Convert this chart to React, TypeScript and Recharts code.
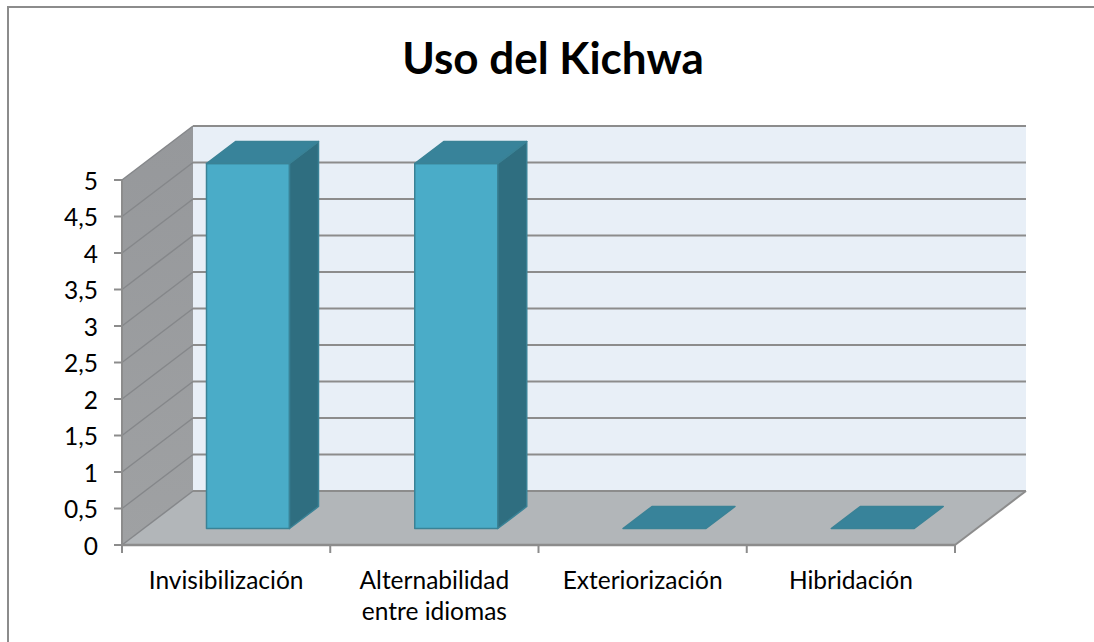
import { Bar, BarChart, CartesianGrid, XAxis, YAxis } from 'recharts';

const categories = ['Invisibilización', 'Alternabilidad entre idiomas', 'Exteriorización', 'Hibridación'];
const usoValues = [5, 5, 0, 0];
const yTicks = [0, 0.5, 1, 1.5, 2, 2.5, 3, 3.5, 4, 4.5, 5];

const chartData = categories.map((name, i) => ({ name, uso: usoValues[i] }));

const FONT = 'Lato, sans-serif';
const AXIS_GREY = '#8c8c8c';
const PLOT_LEFT = 122;
const PLOT_TOP = 180;
const PLOT_WIDTH = 833;
const PLOT_HEIGHT = 365;
const BAND = PLOT_WIDTH / categories.length;
// oblique offset of the back wall and of the bars
const DEPTH_X = 71;
const DEPTH_Y = 54;
const BAR_SHIFT_X = 21.5;
const BAR_SHIFT_Y = 16.5;
const BAR_DEPTH_X = 29;
const BAR_DEPTH_Y = 22;

const pts = (list: number[][]) => list.map((p) => p.join(',')).join(' ');

const GridLine = (props: any) => {
  const { x1, x2, y1, index } = props;
  const left = PLOT_LEFT;
  const right = PLOT_LEFT + PLOT_WIDTH;
  const top = PLOT_TOP;
  const bottom = PLOT_TOP + PLOT_HEIGHT;
  return (
    <g>
      {index === 0 ? (
        <g>
          <defs>
            <linearGradient id="sideWall" x1="0" y1="0" x2="0" y2="1">
              <stop offset="0" stopColor="#96989b" />
              <stop offset="1" stopColor="#9fa1a3" />
            </linearGradient>
          </defs>
          <rect x={left + DEPTH_X} y={top - DEPTH_Y} width={PLOT_WIDTH} height={PLOT_HEIGHT} fill="#e8eff7" />
          <polygon
            points={pts([[left, top], [left + DEPTH_X, top - DEPTH_Y], [left + DEPTH_X, bottom - DEPTH_Y], [left, bottom]])}
            fill="url(#sideWall)"
          />
          <polygon
            points={pts([[left, bottom], [left + DEPTH_X, bottom - DEPTH_Y], [right + DEPTH_X, bottom - DEPTH_Y], [right, bottom]])}
            fill="#b2b6b9"
          />
          <line x1={right} y1={bottom} x2={right + DEPTH_X} y2={bottom - DEPTH_Y} stroke={AXIS_GREY} strokeWidth={2} />
        </g>
      ) : null}
      <line x1={x1} y1={y1} x2={x1 + DEPTH_X} y2={y1 - DEPTH_Y} stroke="#85878a" strokeWidth={1.5} />
      <line x1={x1 + DEPTH_X} y1={y1 - DEPTH_Y} x2={x2 + DEPTH_X} y2={y1 - DEPTH_Y} stroke={AXIS_GREY} strokeWidth={2} />
    </g>
  );
};

const Box3D = (props: any) => {
  const { x, y, width, height } = props;
  const fx = x + BAR_SHIFT_X;
  const fy = y - BAR_SHIFT_Y;
  const dx = BAR_DEPTH_X;
  const dy = BAR_DEPTH_Y;
  return (
    <g stroke="#3a8296" strokeWidth={1.5} strokeLinejoin="round">
      {height > 0 ? (
        <>
          <rect x={fx} y={fy} width={width} height={height} fill="#4aacc8" />
          <polygon
            points={pts([[fx + width, fy], [fx + width + dx, fy - dy], [fx + width + dx, fy + height - dy], [fx + width, fy + height]])}
            fill="#2f6e80"
          />
        </>
      ) : null}
      <polygon
        points={pts([[fx, fy], [fx + dx, fy - dy], [fx + width + dx, fy - dy], [fx + width, fy]])}
        fill="#38839a"
      />
    </g>
  );
};

const CategoryTick = (props: any) => {
  const { x, payload, index } = props;
  const words = String(payload.value).split(' ');
  const lines = words.length > 2 ? [words[0], words.slice(1).join(' ')] : [payload.value];
  const boundary = x + BAND / 2;
  const axisY = PLOT_TOP + PLOT_HEIGHT;
  return (
    <g>
      {index === 0 ? <line x1={x - BAND / 2} x2={x - BAND / 2} y1={axisY} y2={axisY + 8} stroke={AXIS_GREY} strokeWidth={2} /> : null}
      <line x1={boundary} x2={boundary} y1={axisY} y2={axisY + 8} stroke={AXIS_GREY} strokeWidth={2} />
      <text x={x} y={axisY + 44} textAnchor="middle" fontFamily={FONT} fontSize={24.5} fill="#000">
        {lines.map((line: string, i: number) => (
          <tspan key={line} x={x} dy={i === 0 ? 0 : 31}>
            {line}
          </tspan>
        ))}
      </text>
    </g>
  );
};

export default function App() {
  return (
    <div style={{ position: 'absolute', left: 0, top: 0, width: 1094, height: 642, background: '#fff' }}>
      <div
        style={{
          position: 'absolute',
          left: 7,
          top: 6,
          width: 1087,
          height: 636,
          borderLeft: '2px solid #8c8c8c',
          borderTop: '2px solid #8c8c8c',
          boxSizing: 'border-box',
        }}
      />
      <div
        style={{
          position: 'absolute',
          left: 0,
          top: 31,
          width: 1106,
          textAlign: 'center',
          fontFamily: FONT,
          fontWeight: 700,
          fontSize: 44,
          color: '#000',
        }}
      >
        Uso del Kichwa
      </div>
      <BarChart
        width={1094}
        height={642}
        data={chartData}
        margin={{ top: PLOT_TOP, left: 0, right: 1094 - PLOT_LEFT - PLOT_WIDTH, bottom: 0 }}
        barSize={83}
        style={{ position: 'absolute', left: 0, top: 0 }}
      >
        <CartesianGrid vertical={false} horizontal={GridLine} />
        <XAxis
          dataKey="name"
          height={642 - PLOT_TOP - PLOT_HEIGHT}
          interval={0}
          tickLine={false}
          axisLine={{ stroke: AXIS_GREY, strokeWidth: 2.5 }}
          tick={CategoryTick}
        />
        <YAxis
          width={PLOT_LEFT}
          domain={[0, 5]}
          ticks={yTicks}
          interval={0}
          tickSize={8}
          tickMargin={16}
          tickFormatter={(v: number) => String(v).replace('.', ',')}
          axisLine={{ stroke: AXIS_GREY, strokeWidth: 2 }}
          tickLine={{ stroke: AXIS_GREY, strokeWidth: 2 }}
          tick={{ fill: '#000', fontFamily: FONT, fontSize: 24.5, dy: 1 }}
        />
        <Bar dataKey="uso" shape={Box3D} isAnimationActive={false} />
      </BarChart>
    </div>
  );
}
